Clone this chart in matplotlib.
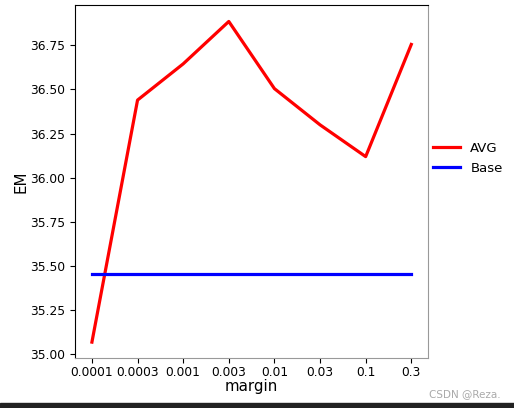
import matplotlib
matplotlib.use("Agg")
import matplotlib.pyplot as plt

categories = ["0.0001", "0.0003", "0.001", "0.003", "0.01", "0.03", "0.1", "0.3"]
avg = [35.07, 36.44, 36.645, 36.885, 36.505, 36.30, 36.12, 36.755]
base = [35.455] * len(categories)

fig = plt.figure(figsize=(5.14, 4.08), dpi=100)
ax = fig.add_axes([0.146, 0.1225, 0.687, 0.866])
x = list(range(len(categories)))
ax.plot(x, avg, color="red", lw=2.3, label="AVG")
ax.plot(x, base, color="blue", lw=2.3, label="Base")
ax.set_xticks(x)
ax.set_xticklabels(categories, fontsize=8.8)
ax.set_yticks([35.00, 35.25, 35.50, 35.75, 36.00, 36.25, 36.50, 36.75])
ax.set_yticklabels(["35.00", "35.25", "35.50", "35.75", "36.00", "36.25", "36.50", "36.75"], fontsize=8.8)
ax.tick_params(axis="x", pad=2.5)
ax.set_ylim(34.98, 36.98)
ax.set_xlim(-0.37, 7.37)
ax.set_xlabel("margin", fontsize=10.8, labelpad=0)
ax.set_ylabel("EM", fontsize=10.8, labelpad=1.5)
for s in ["bottom", "right"]:
    ax.spines[s].set_color("#999999")
ax.legend(loc="center left", bbox_to_anchor=(1.0, 0.565), frameon=False, fontsize=9.5,
          handlelength=2.0, borderaxespad=0.0)
fig.text(0.905, 0.035, "CSDN @Reza.", fontsize=7.5, color="#aaaaaa", ha="center", va="center")
fig.patches.append(matplotlib.patches.Rectangle((0, 0), 1, 0.012, transform=fig.transFigure, color="#222222", zorder=10))
fig.savefig("out.png", dpi=100)
